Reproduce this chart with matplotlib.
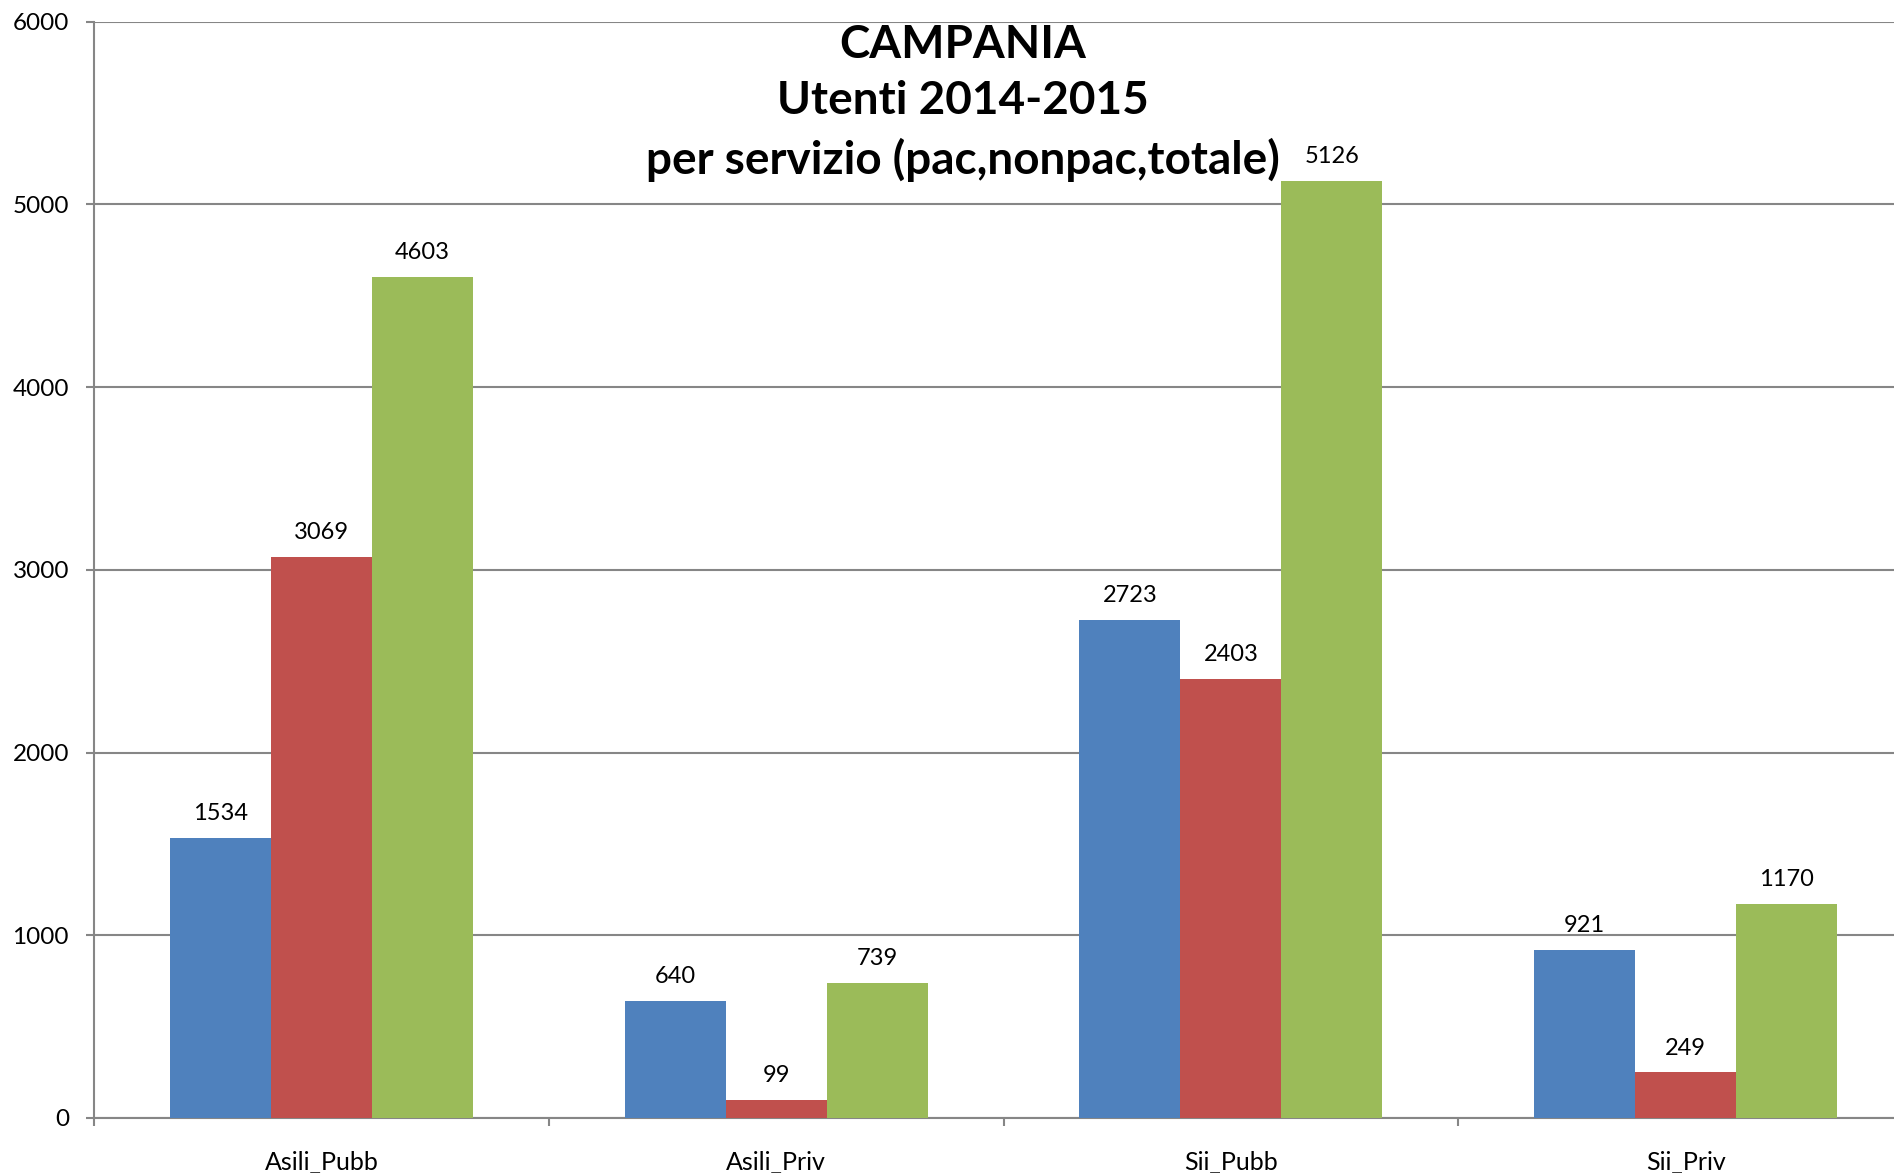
import matplotlib
matplotlib.use('Agg')
import matplotlib.pyplot as plt
import numpy as np

# Data
categories = ['Asili_Pubb', 'Asili_Priv', 'Sii_Pubb', 'Sii_Priv']
pac = [1534, 640, 2723, 921]
nonpac = [3069, 99, 2403, 249]
totale = [4603, 739, 5126, 1170]

series = [pac, nonpac, totale]
colors = ['#4F81BD', '#C0504D', '#9BBB59']

plt.rcParams['font.family'] = ['Lato', 'DejaVu Sans']

fig = plt.figure(figsize=(18.94, 11.73), dpi=100)
ax = fig.add_axes([94 / 1894, 1 - 1118 / 1173, 1819 / 1894, (1118 - 21.5) / 1173])

x = np.arange(len(categories))
bw = 1 / 4.5
for i, (vals, col) in enumerate(zip(series, colors)):
    pos = x + (i - 1) * bw
    bars = ax.bar(pos, vals, width=bw, color=col, zorder=3)
    for b, v in zip(bars, vals):
        ax.annotate(str(v), (b.get_x() + b.get_width() / 2, v),
                    xytext=(0, 10), textcoords='offset points',
                    ha='center', va='bottom', fontsize=17)

ax.set_xlim(-0.5, len(categories) - 0.5)
ax.set_ylim(0, 6000)
ax.set_yticks(range(0, 6001, 1000))
ax.yaxis.grid(True, color='#868686', linewidth=1.5, zorder=0)

ax.set_xticks(x)
ax.set_xticklabels(categories, fontsize=18)
ax.set_xticks(np.arange(-0.5, len(categories), 1), minor=True)
ax.tick_params(axis='x', which='major', length=0, pad=24)
ax.tick_params(axis='x', which='minor', length=6, color='#868686', width=1.5)
ax.tick_params(axis='y', length=6, color='#868686', width=1.5, pad=12, labelsize=17.5)

for s in ['top', 'right']:
    ax.spines[s].set_visible(False)
for s in ['left', 'bottom']:
    ax.spines[s].set_color('#868686')
    ax.spines[s].set_linewidth(1.5)

fig.text(963 / 1894, 1 - 103 / 1173,
         'CAMPANIA\nUtenti 2014-2015\nper servizio (pac,nonpac,totale)',
         ha='center', va='center', fontsize=33, fontweight='bold',
         linespacing=1.42)

fig.savefig('out.png', dpi=100)
